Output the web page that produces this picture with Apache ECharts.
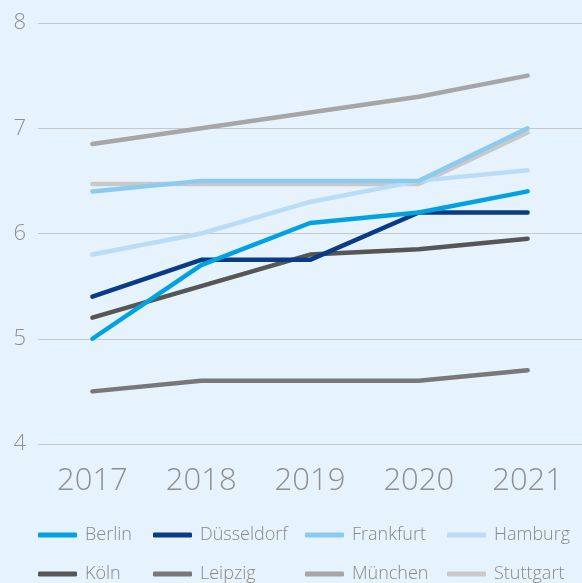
<!DOCTYPE html>
<html>
<head>
<meta charset="utf-8">
<script src="https://cdn.jsdelivr.net/npm/echarts@6/dist/echarts.min.js"></script>
<style>
html,body{margin:0;padding:0;background:#e6f2fc;}
#c{width:582px;height:583px;}
</style>
</head>
<body>
<div id="c"></div>
<script>
const years = ['2017','2018','2019','2020','2021'];
const cities = ['Berlin','Düsseldorf','Frankfurt','Hamburg','Köln','Leipzig','München','Stuttgart'];
const berlin     = [5.0, 5.7, 6.1, 6.2, 6.4];
const duesseldorf= [5.4, 5.75, 5.75, 6.2, 6.2];
const frankfurt  = [6.4, 6.5, 6.5, 6.5, 7.0];
const hamburg    = [5.8, 6.0, 6.3, 6.5, 6.6];
const koeln      = [5.2, 5.5, 5.8, 5.85, 5.95];
const leipzig    = [4.5, 4.6, 4.6, 4.6, 4.7];
const muenchen   = [6.85, 7.0, 7.15, 7.3, 7.5];
const stuttgart  = [6.47, 6.47, 6.47, 6.47, 6.96];
const values = [berlin, duesseldorf, frankfurt, hamburg, koeln, leipzig, muenchen, stuttgart];
const colors = ['#00a2e1','#0a3b85','#8ccaf0','#badcf6','#565656','#787878','#a6a6a6','#c9c9c9'];

const font = '"Open Sans", sans-serif';
const series = cities.map((name, i) => ({
  name: name,
  type: 'line',
  data: values[i],
  symbol: 'none',
  z: 20 - i,
  lineStyle: { width: 4.5, color: colors[i], cap: 'round', join: 'round' },
  itemStyle: { color: colors[i] },
  emphasis: { disabled: true },
  animation: false
}));

const colLeft = [38, 153, 305, 447];
const rowTop = [525, 564];
const legends = cities.map((name, i) => ({
  orient: 'horizontal',
  left: colLeft[i % 4],
  top: rowTop[Math.floor(i / 4)],
  padding: 0,
  itemWidth: 39,
  itemHeight: 5,
  icon: 'roundRect',
  selectedMode: false,
  data: [name],
  textStyle: { fontFamily: font, fontWeight: 300, fontSize: 18, color: '#888888', lineHeight: 20, padding: [0, 0, 0, 3] }
}));

const chart = echarts.init(document.getElementById('c'));
chart.setOption({
  backgroundColor: '#e6f2fc',
  animation: false,
  color: colors,
  legend: legends,
  grid: { left: 38, right: -5, top: 23, bottom: 139, containLabel: false },
  xAxis: {
    type: 'category',
    data: years,
    boundaryGap: true,
    axisLine: { show: false },
    axisTick: { show: false },
    axisLabel: { fontFamily: font, fontWeight: 300, fontSize: 31, color: '#8f8f8f', margin: 22 }
  },
  yAxis: {
    type: 'value',
    min: 4,
    max: 8,
    interval: 1,
    axisLine: { show: false },
    axisTick: { show: false },
    axisLabel: { fontFamily: font, fontWeight: 300, fontSize: 22, color: '#8f8f8f', margin: 12 },
    splitLine: { lineStyle: { color: '#c6c8ca', width: 1.2 } }
  },
  series: series
});
</script>
</body>
</html>
